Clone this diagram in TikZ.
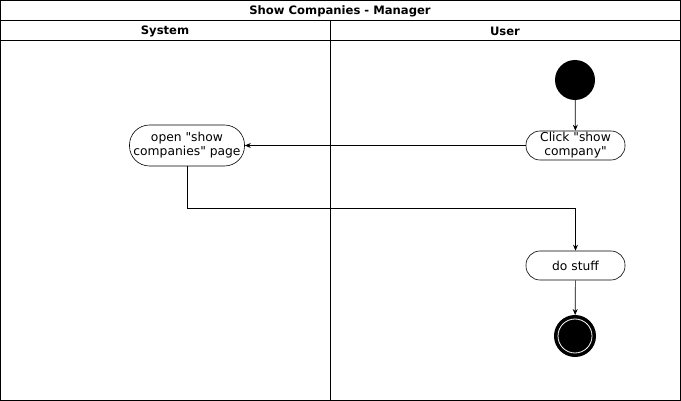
\documentclass[tikz,border=0pt]{standalone}
\usepackage{fontspec}
\setmainfont{DejaVu Sans}
\usetikzlibrary{arrows.meta}
\newcommand{\dq}{\textquotedbl{}}
\begin{document}
\begin{tikzpicture}[x=1pt,y=-1pt,
  frame/.style={draw=black,line width=0.8pt},
  act/.style={draw=black,line width=0.6pt,rounded corners=14pt,align=center,font=\fontsize{12.3}{14}\selectfont,inner sep=0pt},
  flow/.style={draw=black,line width=0.7pt,-{Stealth[length=6pt,width=5pt]}},
  hdr/.style={font=\bfseries\fontsize{11.6}{13}\selectfont}]
\useasboundingbox (0,0) rectangle (681,401);
\fill[white] (0,0) rectangle (681,401);
% frame
\draw[frame] (0.5,0.5) rectangle (680.5,400.5);
\draw[frame] (0.5,20.5) -- (680.5,20.5);
\draw[frame] (0.5,40.5) -- (680.5,40.5);
\draw[frame] (330.5,20.5) -- (330.5,400.5);
\node[hdr] (title) at (340,11) {Show Companies - Manager};
\node[hdr] (sys) at (165,31) {System};
\node[hdr] (usr) at (505,31) {User};
% nodes
\node[circle,fill=black,minimum size=40pt,inner sep=0pt] (start) at (575,80) {};
\node[act,minimum width=99pt,minimum height=29pt] (click) at (575.5,145.5) {Click \dq show\\company\dq};
\node[act,minimum width=115pt,minimum height=41pt,rounded corners=20pt] (open) at (187,145.5) {open \dq show\\companies\dq{} page};
\node[act,minimum width=99pt,minimum height=29pt] (stuff) at (575.5,265.5) {do stuff};
\node[circle,draw=black,line width=3pt,fill=black,minimum size=39pt,inner sep=0pt] (end) at (575,336) {};
\draw[white,line width=0.8pt] (end.center) circle (17pt);
% flows
\draw[flow] (start) -- (click);
\draw[flow] (click.west) -- (open.east);
\draw[flow] (open.south) |- (575.5,208.5) coordinate (bend) -- (stuff.north);
\draw[flow] (stuff) -- (end);
\end{tikzpicture}
\end{document}
